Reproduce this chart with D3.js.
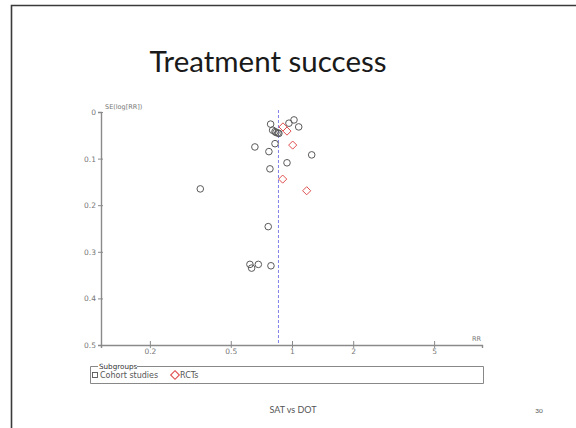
<!DOCTYPE html>
<html>
<head>
<meta charset="utf-8">
<script src="https://cdn.jsdelivr.net/npm/d3@7"></script>
<style>
  html, body { margin: 0; padding: 0; background: #fff; }
  svg { display: block; }
</style>
</head>
<body>
<svg id="chart" width="576" height="428"></svg>
<script>
// Funnel plot: risk ratio (log scale) against its standard error
const xTicks = [0.2, 0.5, 1, 2, 5];
const yTicks = [0, 0.1, 0.2, 0.3, 0.4, 0.5];
const pooledRR = 0.858;

// Cohort studies
const cohortRR = [0.785, 0.803, 0.825, 0.834, 0.853, 0.862, 0.966, 1.023, 1.079, 0.825,
                  0.657, 0.770, 1.250, 0.945, 0.779, 0.354, 0.764, 0.621, 0.633, 0.683, 0.788];
const cohortSE = [0.026, 0.039, 0.042, 0.044, 0.045, 0.046, 0.024, 0.017, 0.032, 0.068,
                  0.075, 0.085, 0.092, 0.109, 0.122, 0.165, 0.246, 0.327, 0.335, 0.327, 0.330];

// Randomised controlled trials
const rctRR = [0.903, 0.945, 1.008, 0.900, 1.181];
const rctSE = [0.032, 0.041, 0.071, 0.144, 0.169];

const svg = d3.select("#chart");

// slide frame
svg.append("path")
  .attr("d", "M11.5,430 L11.5,5.5 L580,5.5")
  .attr("fill", "none").attr("stroke", "#3a3a3a").attr("stroke-width", 1.6);

// title
svg.append("text")
  .attr("x", 268).attr("y", 72)
  .attr("text-anchor", "middle")
  .attr("font-family", "Lato, 'Open Sans', sans-serif")
  .attr("font-size", 29.5)
  .attr("fill", "#1a1a1a")
  .text("Treatment success");

const x = d3.scaleLog().domain([0.115, 8.6]).range([101, 482]);
const y = d3.scaleLinear().domain([0, 0.5]).range([112, 345]);

const axisColor = "#8a8a8a";
const tickFont = "'DejaVu Sans', sans-serif";

// y axis
const yAxis = svg.append("g").attr("transform", "translate(101,0)")
  .call(d3.axisLeft(y).tickValues(yTicks).tickFormat(d3.format("")).tickSize(3).tickPadding(2));
yAxis.select(".domain").attr("stroke", axisColor).attr("stroke-width", 1.4);
yAxis.selectAll(".tick line").attr("stroke", axisColor).attr("x1", 2).attr("x2", -3);
yAxis.selectAll(".tick text").attr("fill", "#777").attr("font-size", 7.5)
  .attr("font-family", tickFont);

// x axis
const xAxis = svg.append("g").attr("transform", "translate(0,345)")
  .call(d3.axisBottom(x).tickValues(xTicks).tickFormat(d3.format("")).tickSize(3).tickPadding(1));
xAxis.select(".domain").attr("stroke", axisColor).attr("stroke-width", 1.4);
xAxis.selectAll(".tick line").attr("stroke", axisColor).attr("y1", -4).attr("y2", 3);
xAxis.selectAll(".tick text").attr("fill", "#777").attr("font-size", 7.5)
  .attr("font-family", tickFont);

// axis titles
svg.append("text").attr("x", 105).attr("y", 109)
  .attr("font-family", tickFont).attr("font-size", 6.5).attr("fill", "#777")
  .text("SE(log[RR])");
svg.append("text").attr("x", 472).attr("y", 341)
  .attr("font-family", tickFont).attr("font-size", 6.5).attr("fill", "#777")
  .text("RR");

// pooled estimate
svg.append("line")
  .attr("x1", x(pooledRR)).attr("x2", x(pooledRR))
  .attr("y1", y(0) - 2).attr("y2", y(0.5))
  .attr("stroke", "#7f7fe8").attr("stroke-width", 1)
  .attr("stroke-dasharray", "3,2");

// cohort studies (circles)
const cohort = cohortRR.map((rr, i) => ({ rr, se: cohortSE[i] }));
svg.append("g").selectAll("circle").data(cohort).join("circle")
  .attr("cx", d => x(d.rr)).attr("cy", d => y(d.se)).attr("r", 3.3)
  .attr("fill", "none").attr("stroke", "#5a5a5a").attr("stroke-width", 1);

// RCTs (diamonds)
const rct = rctRR.map((rr, i) => ({ rr, se: rctSE[i] }));
const diamond = d3.symbol().type(d3.symbolDiamond2).size(42);
svg.append("g").selectAll("path").data(rct).join("path")
  .attr("transform", d => `translate(${x(d.rr)},${y(d.se)})`)
  .attr("d", diamond)
  .attr("fill", "none").attr("stroke", "#e05050").attr("stroke-width", 1);

// legend
const lg = svg.append("g");
lg.append("path")
  .attr("d", "M98,366.5 L90.5,366.5 L90.5,383.5 L483.5,383.5 L483.5,366.5 L137,366.5")
  .attr("fill", "none").attr("stroke", "#888").attr("stroke-width", 1);
lg.append("text").attr("x", 99).attr("y", 368.5)
  .attr("font-family", tickFont).attr("font-size", 7.2).attr("fill", "#333")
  .text("Subgroups");
lg.append("rect").attr("x", 92.5).attr("y", 372.5).attr("width", 5).attr("height", 5)
  .attr("fill", "none").attr("stroke", "#555").attr("stroke-width", 0.9);
lg.append("text").attr("x", 100).attr("y", 378)
  .attr("font-family", tickFont).attr("font-size", 8).attr("fill", "#555")
  .text("Cohort studies");
lg.append("path")
  .attr("transform", "translate(175,375)")
  .attr("d", d3.symbol().type(d3.symbolDiamond2).size(48))
  .attr("fill", "none").attr("stroke", "#e05050").attr("stroke-width", 1.1);
lg.append("text").attr("x", 180).attr("y", 378)
  .attr("font-family", tickFont).attr("font-size", 8).attr("fill", "#555")
  .text("RCTs");

// footer
svg.append("text").attr("x", 293).attr("y", 413)
  .attr("text-anchor", "middle")
  .attr("font-family", "Lato, 'Open Sans', sans-serif")
  .attr("font-size", 9).attr("fill", "#555")
  .text("SAT vs DOT");
svg.append("text").attr("x", 539).attr("y", 413)
  .attr("text-anchor", "middle")
  .attr("font-family", "Lato, 'Open Sans', sans-serif")
  .attr("font-size", 6.5).attr("fill", "#555")
  .text("30");
</script>
</body>
</html>
